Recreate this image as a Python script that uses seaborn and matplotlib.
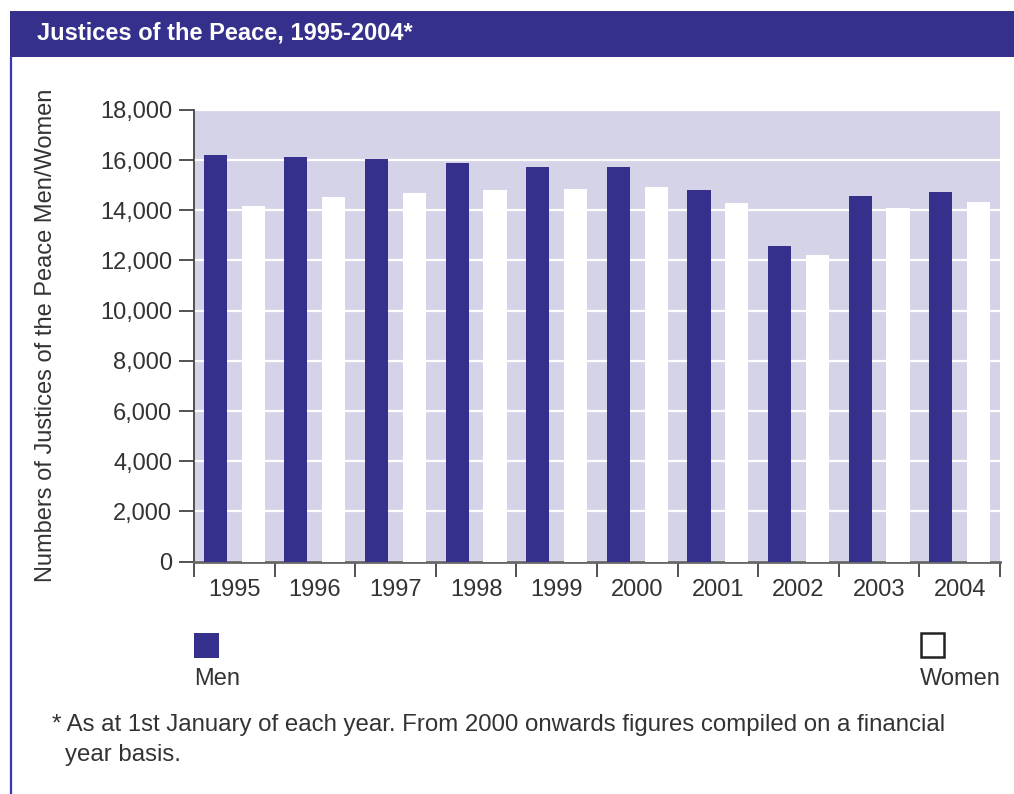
import matplotlib
matplotlib.use("Agg")
import matplotlib.pyplot as plt
from matplotlib.patches import Rectangle
from matplotlib.lines import Line2D
import seaborn as sns
import pandas as pd

# ---- data ----
years = ["1995", "1996", "1997", "1998", "1999", "2000", "2001", "2002", "2003", "2004"]
men = [16200, 16130, 16050, 15890, 15730, 15730, 14810, 12580, 14570, 14730]
women = [14170, 14530, 14690, 14810, 14850, 14930, 14290, 12220, 14090, 14330]
series = ["Men", "Women"]
y_ticks = [0, 2000, 4000, 6000, 8000, 10000, 12000, 14000, 16000, 18000]
y_tick_labels = ["0", "2,000", "4,000", "6,000", "8,000", "10,000", "12,000", "14,000", "16,000", "18,000"]
title = "Justices of the Peace, 1995-2004*"
y_label = "Numbers of Justices of the Peace Men/Women"
footnote1 = "* As at 1st January of each year. From 2000 onwards figures compiled on a financial"
footnote2 = "year basis."

NAVY = "#35308C"
LAV = "#D5D3E8"
TXT = "#333333"
FS = 17

df = pd.DataFrame({
    "year": years * 2,
    "value": men + women,
    "sex": ["Men"] * len(years) + ["Women"] * len(years),
})

sns.set_theme(style="white")
plt.rcParams["font.family"] = ["Liberation Sans", "DejaVu Sans"]

fig = plt.figure(figsize=(10.14, 7.94), dpi=100)
ax = fig.add_axes([0.1913, 0.2928, 0.7949, 0.5687])
ax.set_facecolor(LAV)

sns.barplot(data=df, x="year", y="value", hue="sex", order=years, hue_order=series,
            palette={"Men": NAVY, "Women": "white"}, saturation=1, width=0.94, gap=0.39,
            linewidth=0, edgecolor="none", legend=False, ax=ax, zorder=3)

ax.set_ylim(0, 18000)
ax.set_xlim(-0.5, len(years) - 0.5)
ax.set_yticks(y_ticks)
ax.set_yticklabels(y_tick_labels)
ax.yaxis.grid(True, color="white", linewidth=1.6, zorder=1)
ax.set_axisbelow(True)
ax.tick_params(axis="y", length=10.8, width=1.3, color="#444444", labelsize=FS,
               labelcolor=TXT, pad=5, direction="out", left=True)
ax.set_xticks(range(len(years)))
ax.set_xticklabels(years)
ax.tick_params(axis="x", which="major", length=0, labelsize=FS, labelcolor=TXT, pad=12.5)
ax.set_xticks([i - 0.5 for i in range(len(years) + 1)], minor=True)
ax.tick_params(axis="x", which="minor", length=10.8, width=1.3, color="#444444",
               direction="out", bottom=True)

for s in ["top", "right"]:
    ax.spines[s].set_visible(False)
ax.spines["left"].set_color("#444444")
ax.spines["left"].set_linewidth(1.3)
ax.spines["bottom"].set_color("#666666")
ax.spines["bottom"].set_linewidth(2)

ax.set_xlabel("")
ax.set_ylabel(y_label, fontsize=FS, color=TXT)
ax.yaxis.set_label_coords(-0.17, 0.5)

# header band & frame
fig.patches.append(Rectangle((0.00986, 0.9282), 0.995, 0.0579, transform=fig.transFigure,
                             facecolor=NAVY, edgecolor="none", zorder=0))
fig.add_artist(Line2D([0.0106, 0.0106], [0.0, 0.9282], transform=fig.transFigure,
                      color="#3A37B0", linewidth=1.6))
fig.text(0.0365, 0.9584, title, color="white", fontsize=17, fontweight="bold",
         va="center", ha="left")

# legend
fig.patches.append(Rectangle((194 / 1014, 1 - 657.5 / 794), 25 / 1014, 25 / 794,
                             transform=fig.transFigure, facecolor=NAVY, edgecolor="none"))
fig.patches.append(Rectangle((920.5 / 1014, 1 - 657 / 794), 23 / 1014, 24 / 794,
                             transform=fig.transFigure, facecolor="white",
                             edgecolor="#222222", linewidth=1.8))
fig.text(194 / 1014, 1 - 679 / 794, series[0], fontsize=FS, color=TXT, va="center", ha="left")
fig.text(1001 / 1014, 1 - 679 / 794, series[1], fontsize=FS, color=TXT, va="center", ha="right")

# footnote
fig.text(52 / 1014, 1 - 725 / 794, footnote1, fontsize=17.3, color=TXT, va="center", ha="left")
fig.text(65 / 1014, 1 - 755 / 794, footnote2, fontsize=17.3, color=TXT, va="center", ha="left")

fig.savefig("out.png", dpi=100)
